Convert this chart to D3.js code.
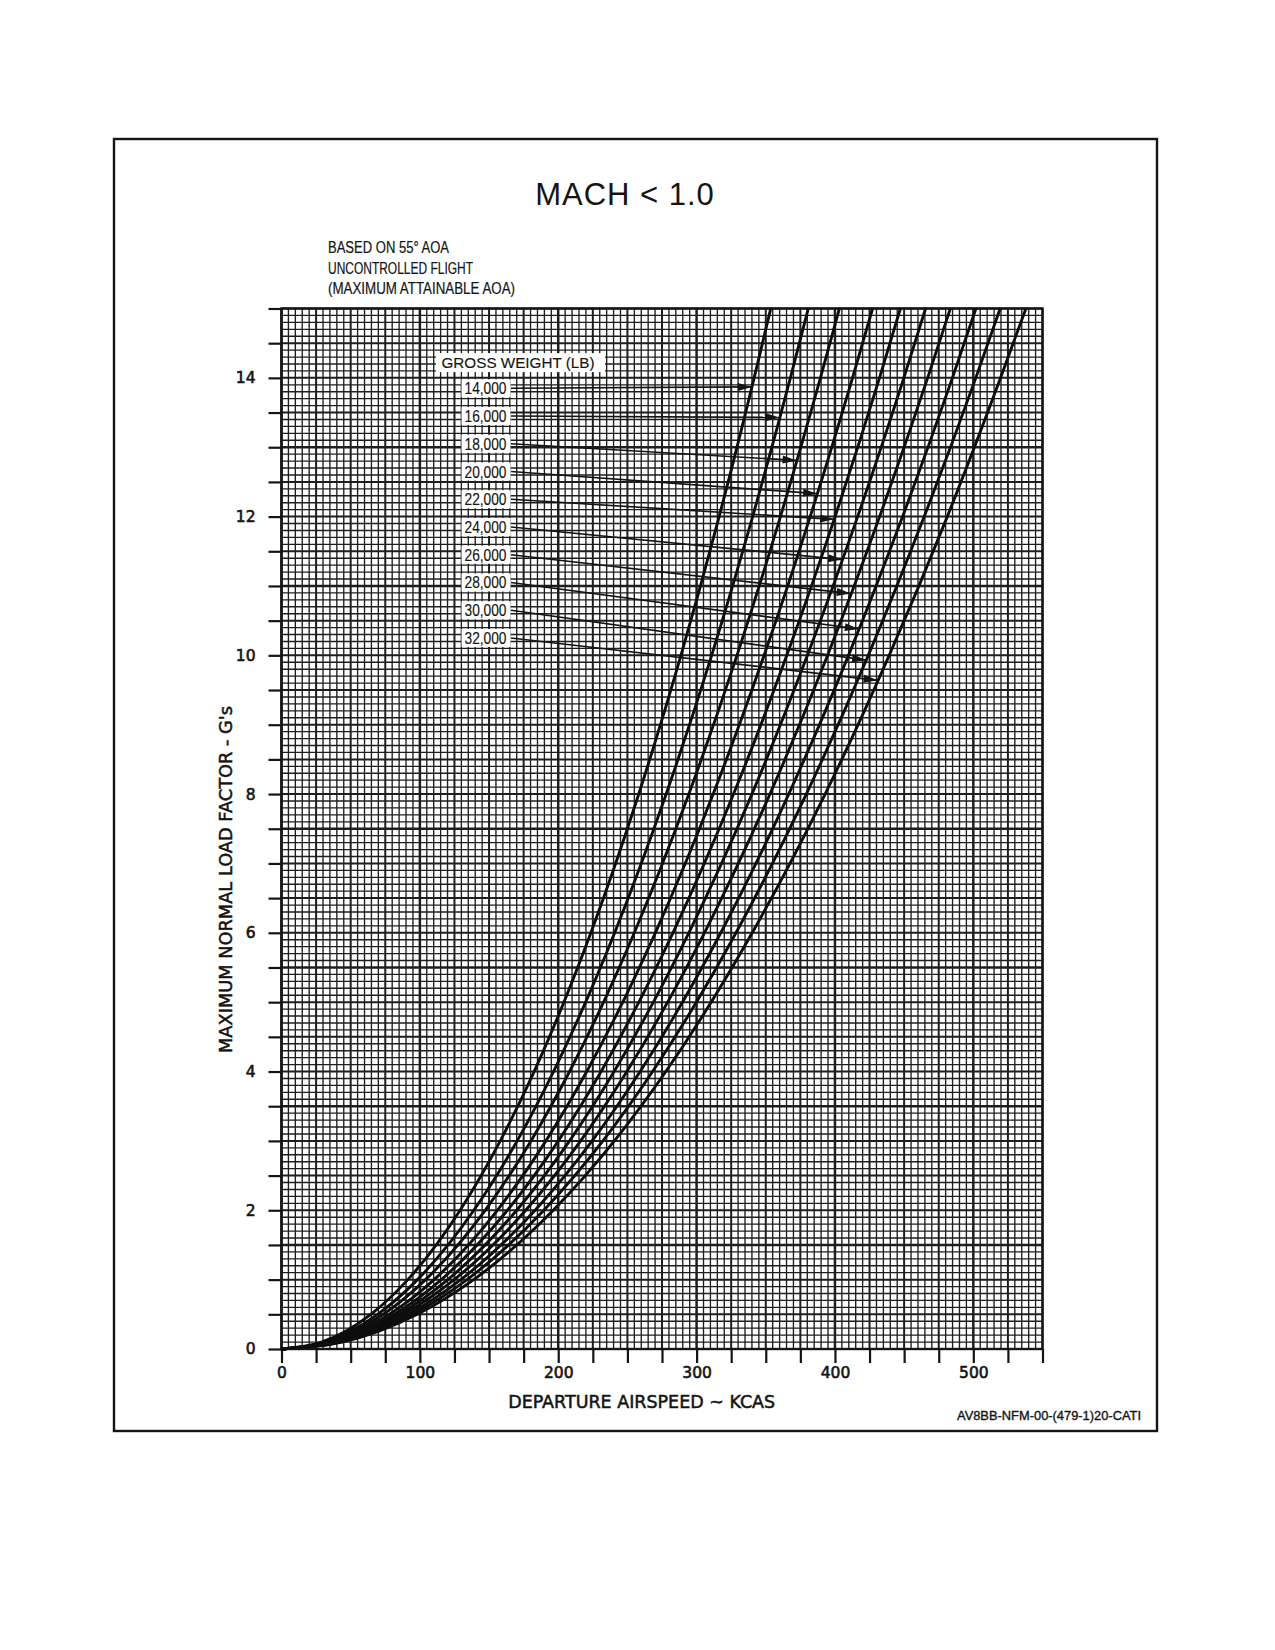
<!DOCTYPE html>
<html>
<head>
<meta charset="utf-8">
<script src="https://cdn.jsdelivr.net/npm/d3@7"></script>
<style>
  body { margin: 0; background: #fff; }
  svg { display: block; }
</style>
</head>
<body>
<div id="chart"></div>
<script>
// airspeed (KCAS) at these load factors
const gLevels = [0, 0.1, 0.25, 0.5, 1, 2, 3, 4, 6, 8, 10, 12, 14, 15];

const kcas14000 = [0, 28.9, 45.7, 64.6, 91.3, 129.1, 158.1, 182.6, 223.6, 258.2, 288.7, 316.3, 341.6, 353.6];
const kcas16000 = [0, 31.1, 49.2, 69.5, 98.3, 139.0, 170.3, 196.6, 240.8, 278.0, 310.9, 340.5, 367.8, 380.7];
const kcas18000 = [0, 32.9, 52.1, 73.6, 104.1, 147.2, 180.3, 208.2, 255.0, 294.4, 329.2, 360.6, 389.5, 403.2];
const kcas20000 = [0, 34.9, 55.2, 78.0, 110.3, 156.0, 191.1, 220.6, 270.2, 312.0, 348.8, 382.1, 412.7, 427.2];
const kcas22000 = [0, 36.5, 57.8, 81.7, 115.5, 163.3, 200.1, 231.0, 282.9, 326.7, 365.2, 400.1, 432.2, 447.3];
const kcas24000 = [0, 38.0, 60.1, 85.0, 120.2, 170.0, 208.2, 240.4, 294.4, 340.0, 380.1, 416.4, 449.8, 465.5];
const kcas26000 = [0, 39.5, 62.4, 88.2, 124.8, 176.5, 216.2, 249.6, 305.7, 353.0, 394.7, 432.3, 467.0, 483.4];
const kcas28000 = [0, 41.0, 64.8, 91.6, 129.6, 183.3, 224.5, 259.2, 317.5, 366.6, 409.8, 448.9, 484.9, 501.9];
const kcas30000 = [0, 42.4, 67.1, 94.8, 134.1, 189.6, 232.3, 268.2, 328.5, 379.3, 424.1, 464.5, 501.8, 519.4];
const kcas32000 = [0, 43.9, 69.5, 98.2, 138.9, 196.4, 240.6, 277.8, 340.2, 392.9, 439.2, 481.2, 519.7, 538.0];

const weightLabels = ["14,000", "16,000", "18,000", "20,000", "22,000", "24,000", "26,000", "28,000", "30,000", "32,000"];
const weightCurves = [kcas14000, kcas16000, kcas18000, kcas20000, kcas22000, kcas24000, kcas26000, kcas28000, kcas30000, kcas32000];
// load factor where each leader arrow touches its curve
const arrowTipG = [13.87, 13.43, 12.81, 12.33, 11.96, 11.38, 10.89, 10.38, 9.93, 9.64];

const xTickLabels = [0, 100, 200, 300, 400, 500];
const yTickLabels = [0, 2, 4, 6, 8, 10, 12, 14];
const notes = ["BASED ON 55\u00B0 AOA", "UNCONTROLLED FLIGHT", "(MAXIMUM ATTAINABLE AOA)"];

const width = 1275;
const height = 1650;
const plotLeft = 281.5;
const plotRight = 1042.5;
const plotTop = 308.5;
const plotBottom = 1349;
const ink = "#141414";

const x = d3.scaleLinear([0, 550], [plotLeft, plotRight]);
const y = d3.scaleLinear([0, 15], [plotBottom, plotTop]);

const svg = d3.select("#chart")
  .append("svg")
  .attr("width", width)
  .attr("height", height)
  .attr("viewBox", [0, 0, width, height]);

svg.append("rect").attr("width", width).attr("height", height).attr("fill", "#fff");

// outer frame
svg.append("rect")
  .attr("x", 114).attr("y", 139)
  .attr("width", 1043).attr("height", 1292)
  .attr("fill", "none").attr("stroke", ink).attr("stroke-width", 2.4);

// title and notes
svg.append("text")
  .attr("x", 625).attr("y", 205)
  .attr("text-anchor", "middle")
  .style("font", "31px 'Liberation Sans', Arial, sans-serif")
  .style("letter-spacing", "1px")
  .attr("fill", ink)
  .text("MACH < 1.0");

const noteWidths = [121, 145, 187];
svg.append("g")
  .selectAll("text")
  .data(notes)
  .join("text")
  .attr("x", 328)
  .attr("y", (d, i) => 253 + i * 20.6)
  .attr("textLength", (d, i) => noteWidths[i])
  .attr("lengthAdjust", "spacingAndGlyphs")
  .style("font", "16px 'Liberation Sans', Arial, sans-serif")
  .attr("fill", ink)
  .attr("stroke", ink)
  .attr("stroke-width", 0.2)
  .text((d) => d);

// graph paper grid
const thickG = [1.5, 3.5, 5.5, 7.5, 11, 13];
const grid = svg.append("g").attr("stroke", "#1e1e1e");

grid.selectAll("line.v")
  .data(d3.range(0, 551, 5))
  .join("line")
  .attr("class", "v")
  .attr("x1", (d) => x(d)).attr("x2", (d) => x(d))
  .attr("y1", plotTop).attr("y2", plotBottom)
  .attr("stroke-width", (d) => d % 100 === 0 ? 2.5 : d % 25 === 0 ? 2 : 1.35);

grid.selectAll("line.h")
  .data(d3.range(0, 151))
  .join("line")
  .attr("class", "h")
  .attr("x1", plotLeft).attr("x2", plotRight)
  .attr("y1", (d) => y(d / 10)).attr("y2", (d) => y(d / 10))
  .attr("stroke-width", (d) => thickG.includes(d / 10) ? 2.4 : d % 5 === 0 ? 2 : 1.35);

svg.append("rect")
  .attr("x", plotLeft).attr("y", plotTop)
  .attr("width", plotRight - plotLeft).attr("height", plotBottom - plotTop)
  .attr("fill", "none").attr("stroke", ink).attr("stroke-width", 2.4);

// axes
const tickFont = "15.5px 'DejaVu Sans', sans-serif";

const yAxis = svg.append("g")
  .attr("transform", `translate(${plotLeft},0)`)
  .call(d3.axisLeft(y)
    .tickValues(d3.range(0, 15.01, 0.5))
    .tickSize(13)
    .tickPadding(13)
    .tickFormat((d) => yTickLabels.includes(d) ? d : ""));

const xAxis = svg.append("g")
  .attr("transform", `translate(0,${plotBottom})`)
  .call(d3.axisBottom(x)
    .tickValues(d3.range(0, 551, 25))
    .tickSize(14)
    .tickPadding(4)
    .tickFormat((d) => xTickLabels.includes(d) ? d : ""));

for (const g of [xAxis, yAxis]) {
  g.select(".domain").remove();
  g.selectAll(".tick line").attr("stroke", ink).attr("stroke-width", 2.2);
  g.selectAll(".tick text")
    .style("font", tickFont)
    .attr("fill", ink)
    .attr("stroke", ink)
    .attr("stroke-width", 0.6);
}

svg.append("text")
  .attr("x", 641.7).attr("y", 1407.7)
  .attr("text-anchor", "middle")
  .attr("textLength", 267)
  .attr("lengthAdjust", "spacingAndGlyphs")
  .style("font", "17px 'DejaVu Sans', sans-serif")
  .attr("fill", ink).attr("stroke", ink).attr("stroke-width", 0.5)
  .text("DEPARTURE AIRSPEED ~ KCAS");

svg.append("text")
  .attr("transform", "translate(232,879.5) rotate(-90)")
  .attr("text-anchor", "middle")
  .attr("textLength", 347)
  .attr("lengthAdjust", "spacingAndGlyphs")
  .style("font", "17px 'DejaVu Sans', sans-serif")
  .attr("fill", ink).attr("stroke", ink).attr("stroke-width", 0.5)
  .text("MAXIMUM NORMAL LOAD FACTOR - G's");

svg.append("text")
  .attr("x", 1141).attr("y", 1420)
  .attr("text-anchor", "end")
  .attr("textLength", 184)
  .attr("lengthAdjust", "spacingAndGlyphs")
  .style("font", "12.5px 'Liberation Sans', Arial, sans-serif")
  .attr("fill", ink).attr("stroke", ink).attr("stroke-width", 0.35)
  .text("AV8BB-NFM-00-(479-1)20-CATI");

// weight curves
const line = d3.line()
  .x((d) => x(d[0]))
  .y((d) => y(d[1]))
  .curve(d3.curveMonotoneX);

svg.append("g")
  .attr("fill", "none")
  .attr("stroke", "#0d0d0d")
  .attr("stroke-width", 2.9)
  .attr("stroke-linejoin", "round")
  .selectAll("path")
  .data(weightCurves)
  .join("path")
  .attr("d", (speeds) => line(speeds.map((v, i) => [v, gLevels[i]])));

// legend with leader arrows
function speedAt(speeds, g) {
  const i = Math.max(0, d3.bisectRight(gLevels, g) - 1);
  const j = Math.min(gLevels.length - 1, i + 1);
  const t = (g - gLevels[i]) / (gLevels[j] - gLevels[i] || 1);
  return speeds[i] + (speeds[j] - speeds[i]) * t;
}

const legend = svg.append("g");

legend.append("rect")
  .attr("x", 436).attr("y", y(14.22) - 9.5)
  .attr("width", 169).attr("height", 19)
  .attr("fill", "#fff");

legend.append("text")
  .attr("x", 441.5).attr("y", y(14.22) + 5.3)
  .attr("textLength", 153)
  .attr("lengthAdjust", "spacingAndGlyphs")
  .style("font", "15px 'Liberation Sans', Arial, sans-serif")
  .attr("fill", ink)
  .attr("stroke", ink)
  .attr("stroke-width", 0.15)
  .text("GROSS WEIGHT (LB)");

const labelY = (i) => y(13.85 - 0.4 * i);

const leaders = legend.selectAll("g.leader")
  .data(weightLabels)
  .join("g")
  .attr("class", "leader");

leaders.append("line")
  .attr("x1", 511)
  .attr("y1", (d, i) => labelY(i))
  .attr("x2", (d, i) => x(speedAt(weightCurves[i], arrowTipG[i])))
  .attr("y2", (d, i) => y(arrowTipG[i]))
  .attr("stroke", ink)
  .attr("stroke-width", 1.7);

leaders.append("path")
  .attr("fill", ink)
  .attr("d", (d, i) => {
    const tx = x(speedAt(weightCurves[i], arrowTipG[i]));
    const ty = y(arrowTipG[i]);
    const a = Math.atan2(ty - labelY(i), tx - 511);
    const len = 14, half = 4;
    const bx = tx - len * Math.cos(a), by = ty - len * Math.sin(a);
    const px = -Math.sin(a) * half, py = Math.cos(a) * half;
    return `M${tx},${ty}L${bx + px},${by + py}L${bx - px},${by - py}Z`;
  });

leaders.append("rect")
  .attr("x", 461.5)
  .attr("y", (d, i) => labelY(i) - 9)
  .attr("width", 49)
  .attr("height", 18)
  .attr("fill", "#fff");

leaders.append("text")
  .attr("x", 464.5)
  .attr("y", (d, i) => labelY(i) + 6)
  .attr("textLength", 42)
  .attr("lengthAdjust", "spacingAndGlyphs")
  .style("font", "16.5px 'Liberation Sans', Arial, sans-serif")
  .attr("fill", ink)
  .attr("stroke", ink)
  .attr("stroke-width", 0.15)
  .text((d) => d);
</script>
</body>
</html>
